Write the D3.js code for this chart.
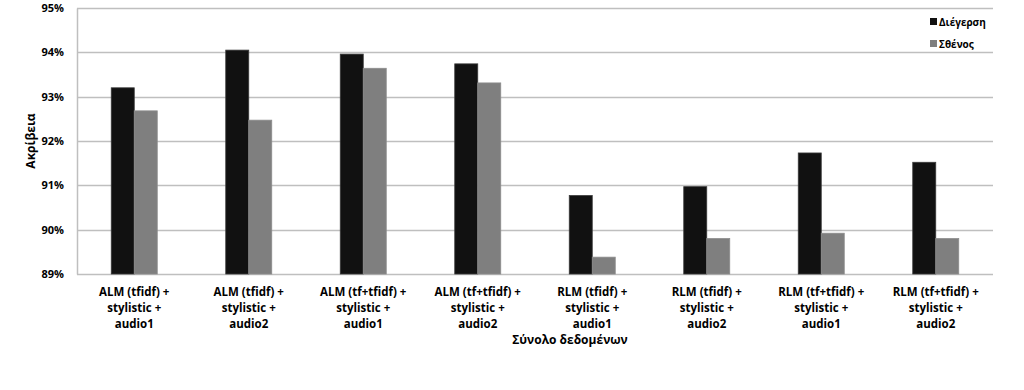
<!DOCTYPE html>
<html>
<head>
<meta charset="utf-8">
<script src="https://cdn.jsdelivr.net/npm/d3@7"></script>
<style>
  html, body { margin: 0; padding: 0; background: #fff; overflow: hidden; }
  svg { display: block; }
</style>
</head>
<body>
<svg id="chart" width="1024" height="390" viewBox="0 0 1024 390"></svg>
<script>
const categories = [
    ["ALM (tfidf) +", "stylistic +", "audio1"],
    ["ALM (tfidf) +", "stylistic +", "audio2"],
    ["ALM (tf+tfidf) +", "stylistic +", "audio1"],
    ["ALM (tf+tfidf) +", "stylistic +", "audio2"],
    ["RLM (tfidf) +", "stylistic +", "audio1"],
    ["RLM (tfidf) +", "stylistic +", "audio2"],
    ["RLM (tf+tfidf) +", "stylistic +", "audio1"],
    ["RLM (tf+tfidf) +", "stylistic +", "audio2"]
];
const seriesNames = ["Διέγερση", "Σθένος"];
const arousal = [93.20, 94.05, 93.96, 93.74, 90.77, 90.97, 91.73, 91.52];
const valence = [92.68, 92.47, 93.64, 93.31, 89.38, 89.80, 89.92, 89.80];
const yTicks = [89, 90, 91, 92, 93, 94, 95];

const fontFamily = "'Open Sans', sans-serif";
const colors = ["#111111", "#7f7f7f"];
const margin = { top: 8, right: 31, bottom: 116, left: 77 };
const width = 1024, height = 390;
const innerWidth = width - margin.left - margin.right;
const innerHeight = height - margin.top - margin.bottom;

const svg = d3.select("#chart")
    .attr("font-family", fontFamily)
    .attr("font-weight", "bold");

const inner = svg.append("g")
    .attr("class", "inner-chart")
    .attr("transform", `translate(${margin.left},${margin.top})`);

const xScale = d3.scaleBand()
    .domain(d3.range(categories.length))
    .range([0, innerWidth]);

const xSub = d3.scaleBand()
    .domain([0, 1])
    .range([0, 46])
    .padding(0);

const yScale = d3.scaleLinear()
    .domain([89, 95])
    .range([innerHeight, 0]);

// gridlines
inner.selectAll(".grid")
    .data(yTicks)
    .join("line")
    .attr("class", "grid")
    .attr("x1", 0)
    .attr("x2", innerWidth)
    .attr("y1", d => Math.round(yScale(d)) + 0.5)
    .attr("y2", d => Math.round(yScale(d)) + 0.5)
    .attr("stroke", "#bfbfbf")
    .attr("stroke-width", 1.5);

// y axis
const yAxis = inner.append("g")
    .attr("class", "y-axis")
    .call(d3.axisLeft(yScale).tickValues(yTicks).tickSize(0).tickPadding(13).tickFormat(d => d + "%"));
yAxis.attr("font-family", fontFamily).attr("font-size", 11);
yAxis.select(".domain").attr("stroke", "#bfbfbf").attr("stroke-width", 1.5);
yAxis.selectAll("text").attr("fill", "#000");

// bars
const rows = categories.map((c, i) => ({ i, values: [arousal[i], valence[i]] }));
const groups = inner.selectAll(".cat")
    .data(rows)
    .join("g")
    .attr("class", "cat")
    .attr("transform", d => `translate(${xScale(d.i) + xScale.bandwidth() / 2 - 23},0)`);

groups.selectAll("rect")
    .data(d => d.values.map((v, s) => ({ v, s })))
    .join("rect")
    .attr("x", d => xSub(d.s))
    .attr("y", d => yScale(d.v))
    .attr("width", xSub.bandwidth())
    .attr("height", d => innerHeight - yScale(d.v))
    .attr("fill", d => colors[d.s])
    .attr("stroke", d => d.s === 0 ? "#3a3a3a" : "#8c8c8c")
    .attr("stroke-width", 0.8);

// x labels, one text per line
const labelLines = categories.flatMap((lines, i) => lines.map((t, j) => ({ i, j, t })));
svg.append("g")
    .attr("font-size", 11.5)
    .selectAll("text")
    .data(labelLines)
    .join("text")
    .attr("text-anchor", "middle")
    .attr("x", d => margin.left + xScale(d.i) + xScale.bandwidth() / 2)
    .attr("y", d => margin.top + innerHeight + 22 + d.j * 16)
    .attr("fill", "#000")
    .text(d => d.t);

// axis titles
svg.append("text")
    .attr("text-anchor", "middle")
    .attr("x", 570)
    .attr("y", 344)
    .attr("font-size", 12)
    .attr("fill", "#000")
    .text("Σύνολο δεδομένων");

svg.append("text")
    .attr("text-anchor", "middle")
    .attr("transform", "translate(35,141) rotate(-90)")
    .attr("font-size", 12)
    .attr("fill", "#000")
    .text("Ακρίβεια");

// legend
const legend = svg.append("g")
    .selectAll("g")
    .data(seriesNames)
    .join("g")
    .attr("transform", (d, i) => `translate(930,${22 + i * 22})`);
legend.append("rect")
    .attr("x", 0)
    .attr("y", -4)
    .attr("width", 7)
    .attr("height", 7)
    .attr("fill", (d, i) => colors[i]);
legend.append("text")
    .attr("x", 9)
    .attr("y", 4)
    .attr("font-size", 10)
    .attr("fill", "#000")
    .text(d => d);
</script>
</body>
</html>
